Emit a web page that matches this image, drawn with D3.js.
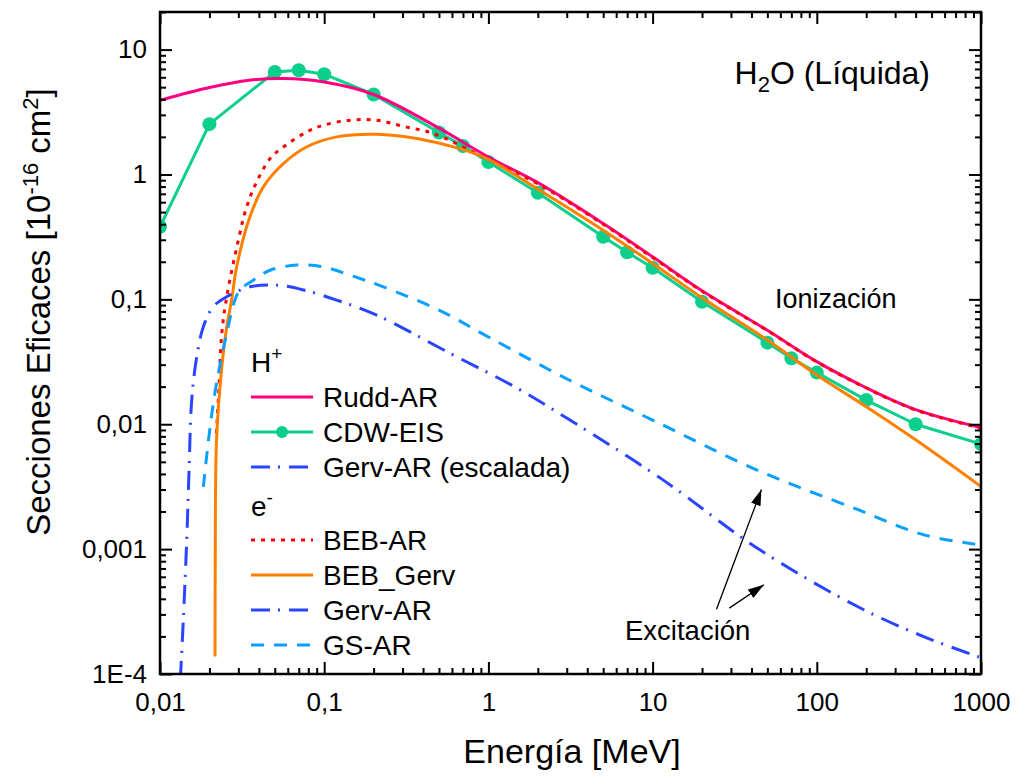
<!DOCTYPE html>
<html>
<head>
<meta charset="utf-8">
<script src="https://cdn.jsdelivr.net/npm/d3@7"></script>
<style>
  body { margin: 0; background: #fff; }
  text { font-family: "Liberation Sans", Arial, Helvetica, sans-serif; fill: #000; }
</style>
</head>
<body>
<svg id="chart" width="1017" height="776"></svg>
<script>
// Cross sections for liquid water (10^-16 cm^2) versus energy (MeV)

const xTickValues = [0.01, 0.1, 1, 10, 100, 1000];
const xTickLabels = ["0,01", "0,1", "1", "10", "100", "1000"];
const yTickValues = [1e-4, 1e-3, 1e-2, 0.1, 1, 10];
const yTickLabels = ["1E-4", "0,001", "0,01", "0,1", "1", "10"];

// H+ : Rudd-AR
const ruddEnergy = [0.01, 0.02, 0.035, 0.056, 0.1, 0.2, 0.5, 1, 2, 5, 10, 20, 50, 100, 200, 400, 1000];
const ruddValues = [3.93, 4.97, 5.68, 5.86, 5.5, 4.37, 2.35, 1.38, 0.86, 0.405, 0.219, 0.117, 0.0565, 0.0317, 0.0196, 0.0131, 0.0094];

// H+ : CDW-EIS
const cdwEnergy = [0.01, 0.02, 0.05, 0.07, 0.1, 0.2, 0.5, 0.7, 1, 2, 5, 7, 10, 20, 50, 70, 100, 200, 400, 1000];
const cdwValues = [0.381, 2.53, 6.62, 6.83, 6.35, 4.37, 2.17, 1.69, 1.26, 0.713, 0.317, 0.238, 0.179, 0.0957, 0.045, 0.0337, 0.0259, 0.0156, 0.01, 0.00695];

// e- : BEB-AR
const bebEnergy = [0.02205, 0.02265, 0.0238, 0.0255, 0.030, 0.0337, 0.0388, 0.0468, 0.0564, 0.0782, 0.099, 0.1436, 0.209, 0.303, 0.462, 0.93, 2, 5, 10, 20, 50, 100, 200, 400, 1000];
const bebValues = [0.0085, 0.0156, 0.0537, 0.105, 0.298, 0.55, 0.873, 1.34, 1.66, 2.19, 2.48, 2.72, 2.72, 2.43, 2.13, 1.38, 0.84, 0.40, 0.216, 0.116, 0.0562, 0.0315, 0.0195, 0.013, 0.0093];

// e- : BEB_Gerv
const bebGervEnergy = [0.02163, 0.0217, 0.0221, 0.0238, 0.0255, 0.0273, 0.0293, 0.0353, 0.0426, 0.0564, 0.078, 0.119, 0.209, 0.366, 0.671, 1, 1.97, 5, 10, 20, 50, 100, 200, 400, 1000];
const bebGervValues = [1.38e-4, 8.2e-4, 0.0075, 0.0289, 0.0604, 0.0987, 0.182, 0.458, 0.796, 1.22, 1.66, 2.0, 2.1, 1.94, 1.61, 1.32, 0.773, 0.358, 0.194, 0.103, 0.0472, 0.0248, 0.0138, 0.0075, 0.00317];

// Excitation : Gerv-AR
const gervEnergy = [0.0133, 0.01387, 0.01455, 0.01503, 0.0156, 0.01674, 0.01837, 0.0211, 0.0255, 0.0353, 0.0514, 0.0747, 0.119, 0.209, 0.583, 1.49, 3.0, 11.1, 45, 183, 467, 1000];
const gervValues = [9e-5, 2.72e-4, 1.19e-3, 4.3e-3, 0.0156, 0.0347, 0.0604, 0.0873, 0.105, 0.126, 0.13, 0.119, 0.0987, 0.0748, 0.037, 0.0195, 0.0112, 0.00372, 9.87e-4, 3.39e-4, 1.95e-4, 1.35e-4];

// Excitation : GS-AR
const gsEnergy = [0.01837, 0.0202, 0.0221, 0.0255, 0.0286, 0.0307, 0.037, 0.0468, 0.068, 0.099, 0.144, 0.229, 0.5, 1, 3.1, 10, 45, 180, 450, 1000];
const gsValues = [0.00315, 0.0096, 0.0214, 0.0537, 0.0987, 0.119, 0.1425, 0.171, 0.188, 0.182, 0.156, 0.126, 0.082, 0.05, 0.0226, 0.0108, 0.0042, 0.00206, 0.0013, 0.00108];

const svg = d3.select("#chart");
const plot = { left: 160, right: 981, top: 12, bottom: 674 };

const x = d3.scaleLog().domain([0.01, 1000]).range([plot.left, plot.right]);
const y = d3.scaleLog().domain([1e-4, 20]).range([plot.bottom, plot.top]);

const zip = (es, vs) => es.map((e, i) => ({ e, v: vs[i] }));

// clipping region for the curves
svg.append("defs").append("clipPath").attr("id", "plotClip")
  .append("rect")
  .attr("x", plot.left).attr("y", plot.top)
  .attr("width", plot.right - plot.left).attr("height", plot.bottom - plot.top);

const series = [
  { name: "CDW-EIS", data: zip(cdwEnergy, cdwValues), color: "#0BCF8A", width: 3, dash: null, markers: true, smooth: false },
  { name: "Rudd-AR", data: zip(ruddEnergy, ruddValues), color: "#FF0080", width: 3, dash: null },
  { name: "BEB-AR", data: zip(bebEnergy, bebValues), color: "#FF0000", width: 3, dash: "4,6" },
  { name: "BEB_Gerv", data: zip(bebGervEnergy, bebGervValues), color: "#FF8000", width: 3, dash: null },
  { name: "GS-AR", data: zip(gsEnergy, gsValues), color: "#0AA0FF", width: 3, dash: "13,10" },
  { name: "Gerv-AR", data: zip(gervEnergy, gervValues), color: "#2A44FF", width: 3, dash: "19,8,2,9" }
];

const curves = svg.append("g").attr("clip-path", "url(#plotClip)");

series.forEach(s => {
  const line = d3.line()
    .x(d => x(d.e))
    .y(d => y(d.v))
    .curve(s.smooth === false ? d3.curveLinear : d3.curveCatmullRom.alpha(0.5));
  curves.append("path")
    .datum(s.data)
    .attr("fill", "none")
    .attr("stroke", s.color)
    .attr("stroke-width", s.width)
    .attr("stroke-dasharray", s.dash)
    .attr("stroke-linejoin", "round")
    .attr("d", line);
  if (s.markers) {
    curves.selectAll(null).data(s.data).enter().append("circle")
      .attr("cx", d => x(d.e)).attr("cy", d => y(d.v))
      .attr("r", 7).attr("fill", s.color);
  }
});

// minor tick values
const minorX = [];
for (let p = -2; p < 3; p++) for (let m = 2; m <= 9; m++) minorX.push(m * Math.pow(10, p));
const minorY = [];
for (let p = -4; p <= 1; p++) for (let m = 2; m <= 9; m++) {
  const v = m * Math.pow(10, p);
  if (v <= 20) minorY.push(v);
}

const fmtX = d => xTickLabels[xTickValues.indexOf(d)];
const fmtY = d => yTickLabels[yTickValues.indexOf(d)];

function styleAxis(g) {
  g.select(".domain").remove();
  g.selectAll(".tick line").attr("stroke", "#000").attr("stroke-width", 2);
  g.selectAll(".tick text").style("font-size", "26px").attr("fill", "#000");
}

// bottom
svg.append("g").attr("transform", `translate(0,${plot.bottom})`)
  .call(d3.axisBottom(x).tickValues(xTickValues).tickFormat(fmtX).tickSizeInner(-12).tickSizeOuter(0).tickPadding(19))
  .call(styleAxis);
svg.append("g").attr("transform", `translate(0,${plot.bottom})`)
  .call(d3.axisBottom(x).tickValues(minorX).tickFormat("").tickSizeInner(-6).tickSizeOuter(0))
  .call(styleAxis);
// top
svg.append("g").attr("transform", `translate(0,${plot.top})`)
  .call(d3.axisTop(x).tickValues(xTickValues).tickFormat("").tickSizeInner(-12).tickSizeOuter(0))
  .call(styleAxis);
svg.append("g").attr("transform", `translate(0,${plot.top})`)
  .call(d3.axisTop(x).tickValues(minorX).tickFormat("").tickSizeInner(-6).tickSizeOuter(0))
  .call(styleAxis);
// left
svg.append("g").attr("transform", `translate(${plot.left},0)`)
  .call(d3.axisLeft(y).tickValues(yTickValues).tickFormat(fmtY).tickSizeInner(-12).tickSizeOuter(0).tickPadding(13))
  .call(styleAxis);
svg.append("g").attr("transform", `translate(${plot.left},0)`)
  .call(d3.axisLeft(y).tickValues(minorY).tickFormat("").tickSizeInner(-6).tickSizeOuter(0))
  .call(styleAxis);
// right
svg.append("g").attr("transform", `translate(${plot.right},0)`)
  .call(d3.axisRight(y).tickValues(yTickValues).tickFormat("").tickSizeInner(-12).tickSizeOuter(0))
  .call(styleAxis);
svg.append("g").attr("transform", `translate(${plot.right},0)`)
  .call(d3.axisRight(y).tickValues(minorY).tickFormat("").tickSizeInner(-6).tickSizeOuter(0))
  .call(styleAxis);

// frame
svg.append("rect")
  .attr("x", plot.left).attr("y", plot.top)
  .attr("width", plot.right - plot.left).attr("height", plot.bottom - plot.top)
  .attr("fill", "none").attr("stroke", "#000").attr("stroke-width", 2.5);

// axis titles
svg.append("text")
  .attr("x", 572).attr("y", 763)
  .attr("text-anchor", "middle").style("font-size", "34px")
  .text("Energía [MeV]");

const yTitle = svg.append("text")
  .attr("transform", "translate(50,312) rotate(-90)")
  .attr("text-anchor", "middle").style("font-size", "33px");
yTitle.append("tspan").text("Secciones Eficaces [10");
yTitle.append("tspan").attr("dy", -12).style("font-size", "22px").text("-16");
yTitle.append("tspan").attr("dy", 12).text(" cm");
yTitle.append("tspan").attr("dy", -12).style("font-size", "22px").text("2");
yTitle.append("tspan").attr("dy", 12).text("]");

// title inside plot
const h2o = svg.append("text")
  .attr("x", 930).attr("y", 84).attr("text-anchor", "end").style("font-size", "32px");
h2o.append("tspan").text("H");
h2o.append("tspan").attr("dy", 8).style("font-size", "22px").text("2");
h2o.append("tspan").attr("dy", -8).text("O (Líquida)");

// annotations
svg.append("text").attr("x", 775).attr("y", 308).style("font-size", "27px").text("Ionización");
svg.append("text").attr("x", 625).attr("y", 640).style("font-size", "27.5px").text("Excitación");

svg.select("defs").append("marker")
  .attr("id", "arrowHead").attr("viewBox", "0 0 16 10")
  .attr("refX", 16).attr("refY", 5)
  .attr("markerWidth", 16).attr("markerHeight", 10)
  .attr("markerUnits", "userSpaceOnUse").attr("orient", "auto")
  .append("path").attr("d", "M0,0 L16,5 L0,10 Z").attr("fill", "#000");

const arrows = [
  { from: [24.5, 3.3e-4], to: [46, 0.003] },
  { from: [29.3, 3.37e-4], to: [47.6, 5.18e-4] }
];
arrows.forEach(a => {
  svg.append("line")
    .attr("x1", x(a.from[0])).attr("y1", y(a.from[1]))
    .attr("x2", x(a.to[0])).attr("y2", y(a.to[1]))
    .attr("stroke", "#000").attr("stroke-width", 1.3)
    .attr("marker-end", "url(#arrowHead)");
});

// legend
const byName = Object.fromEntries(series.map(s => [s.name, s]));
const legendRows = [
  { header: "H", sup: "+" },
  { label: "Rudd-AR", ref: "Rudd-AR" },
  { label: "CDW-EIS", ref: "CDW-EIS" },
  { label: "Gerv-AR (escalada)", ref: "Gerv-AR" },
  { header: "e", sup: "-" },
  { label: "BEB-AR", ref: "BEB-AR" },
  { label: "BEB_Gerv", ref: "BEB_Gerv" },
  { label: "Gerv-AR", ref: "Gerv-AR" },
  { label: "GS-AR", ref: "GS-AR" }
];
const rowY = [362, 397, 432, 467, 506, 540, 575, 610, 645];
const legend = svg.append("g");
legendRows.forEach((r, i) => {
  const cy = rowY[i];
  if (r.header) {
    const t = legend.append("text").attr("x", 251).attr("y", cy + 10).style("font-size", "28px");
    t.append("tspan").text(r.header);
    t.append("tspan").attr("dy", -12).style("font-size", "19px").text(r.sup);
    return;
  }
  const s = byName[r.ref];
  legend.append("line")
    .attr("x1", 251).attr("x2", 313).attr("y1", cy).attr("y2", cy)
    .attr("stroke", s.color).attr("stroke-width", s.width)
    .attr("stroke-dasharray", s.dash);
  if (s.markers) {
    legend.append("circle").attr("cx", 282).attr("cy", cy).attr("r", 6).attr("fill", s.color);
  }
  legend.append("text").attr("x", 323).attr("y", cy + 10).style("font-size", "28px").text(r.label);
});
</script>
</body>
</html>
